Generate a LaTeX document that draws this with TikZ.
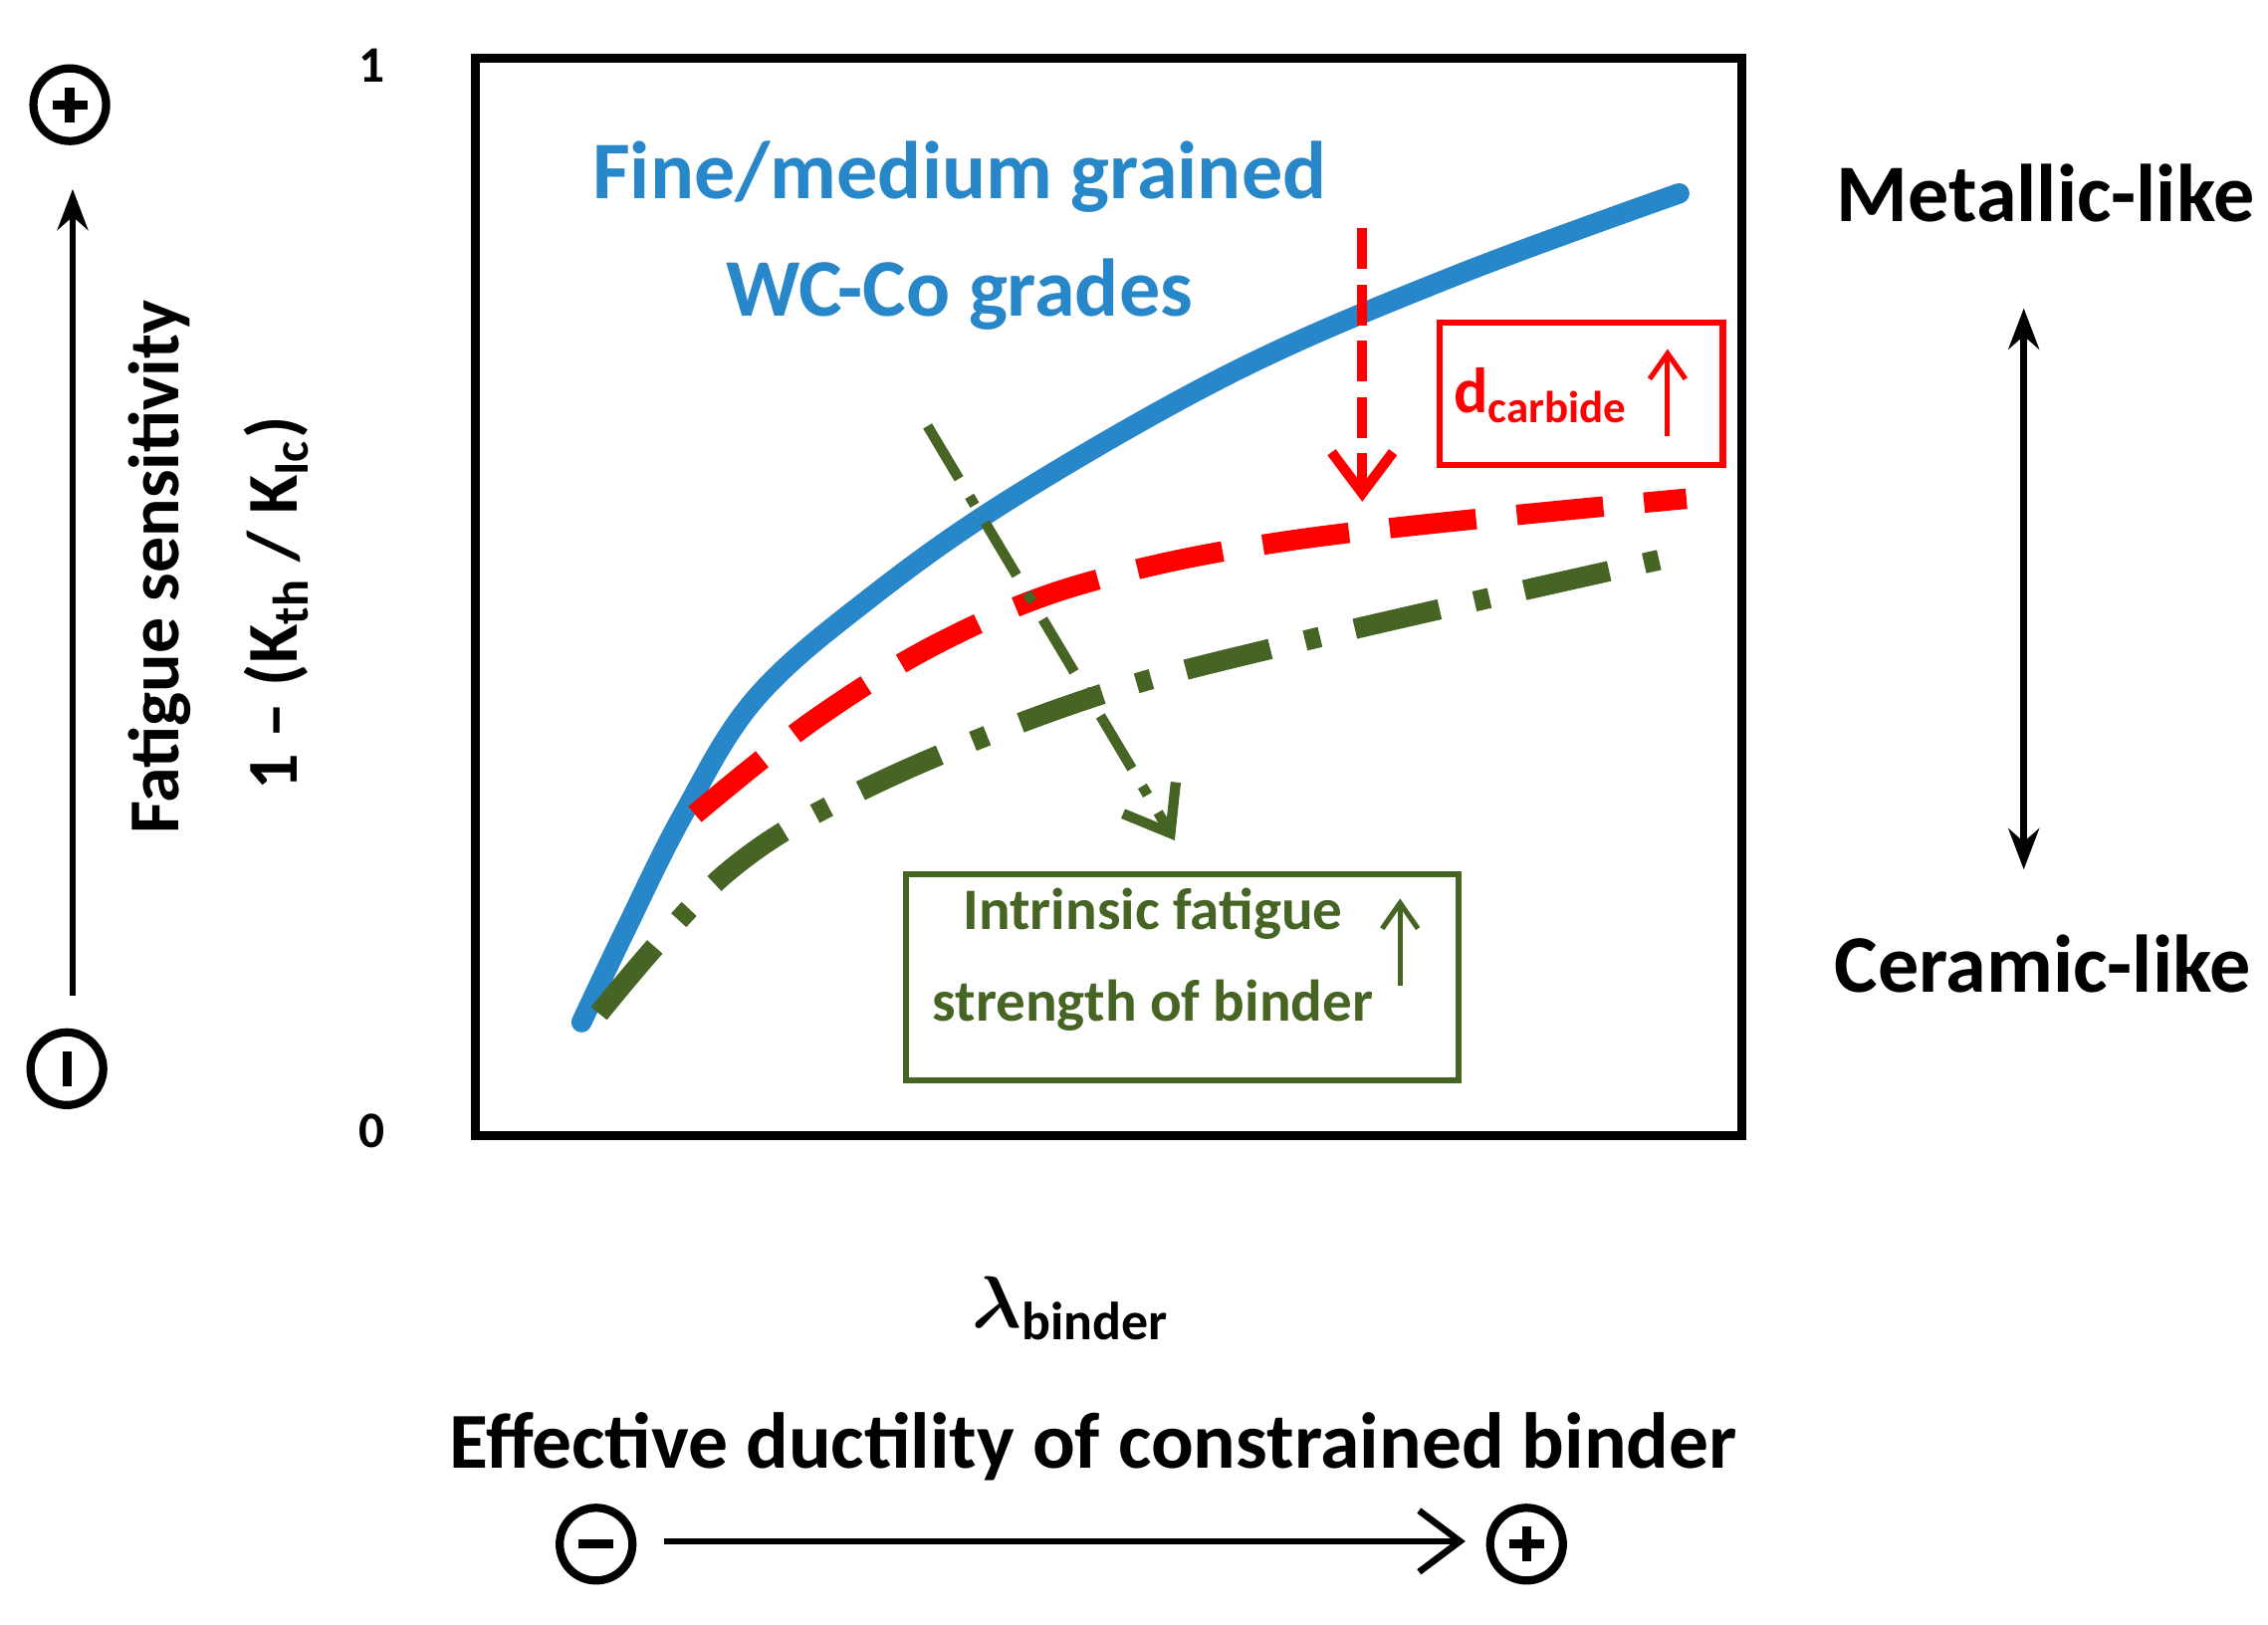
\documentclass[tikz,border=0pt]{standalone}
\usepackage{amsmath}
\usepackage{fontspec}
\setmainfont{Carlito}
\usepackage{xcolor}
\usetikzlibrary{calc,arrows.meta}
\definecolor{fineblue}{RGB}{40,135,200}
\definecolor{binder}{RGB}{70,100,35}
\begin{document}
\begin{tikzpicture}[x=0.01cm,y=-0.01cm,font=\bfseries,
  sign/.style={circle,draw,line width=1.6pt,minimum size=0.5cm,inner sep=0pt},
  tag/.style={font=\bfseries\fontsize{14}{16}\selectfont}]

\useasboundingbox (0,0) rectangle (1560,1117);

% frame
\draw[line width=1.6pt] (327,40) rectangle (1198,781);
\node (one) at (256,45) {\fontsize{10}{12}\selectfont 1};
\node (zero) at (256,778) {\fontsize{10}{12}\selectfont 0};

% left axis
\node[sign] (lplus) at (48,72) {};
\draw[line width=1.8pt] ($(lplus)+(-12,0)$)--($(lplus)+(12,0)$) ($(lplus)+(0,-12)$)--($(lplus)+(0,12)$);
\node[sign] (lminus) at (46,735) {};
\draw[line width=1.8pt] ($(lminus)+(0,-12)$)--($(lminus)+(0,12)$);
\coordinate (ltop) at (50,130);
\coordinate (lbot) at (50,685);
\draw[-{Stealth[length=8pt]},line width=1.3pt] (lbot)--(ltop);
\node[tag,rotate=90] (fatigue) at (110,390) {Fatigue sensitivity};
\node[tag,rotate=90] (ratio) at (190,415) {1 -- (K\textsubscript{th} / K\textsubscript{Ic})};

% curves
\draw[fineblue,line width=4pt,line cap=round] plot[smooth,tension=0.6] coordinates
  {(400,703) (430,640) (470,560) (520,480) (600,410) (700,340) (850,255) (1000,190) (1155,133)};
\draw[red,line width=4pt,dash pattern=on 17pt off 8pt] plot[smooth,tension=0.6] coordinates
  {(478,560) (560,495) (650,440) (750,400) (900,370) (1160,343)};
\draw[binder,line width=4pt,dash pattern=on 17pt off 7pt on 3pt off 7pt] plot[smooth,tension=0.6] coordinates
  {(412,697) (500,600) (600,540) (750,480) (900,440) (1155,382)};

% trend arrows
\coordinate (rtop) at (937,157);
\coordinate (rend) at (937,345);
\draw[red,line width=2pt,dash pattern=on 8pt off 3pt,-{Straight Barb[length=8pt,width=12pt]}] (rtop)--(rend);
\coordinate (gtop) at (638,293);
\coordinate (gend) at (808,578);
\draw[binder,line width=2pt,dash pattern=on 12pt off 4pt on 2pt off 4pt,-{Straight Barb[length=8pt,width=12pt]}] (gtop)--(gend);

% boxes
\draw[red,line width=1.2pt] (990,222) rectangle (1185,320);
\node[red,font=\bfseries\fontsize{12.5}{15}\selectfont] (dcarb) at (1060,272) {d\textsubscript{carbide}};
\coordinate (dlow) at (1147,300);
\coordinate (dup) at (1147,240);
\draw[red,line width=1pt,-{Straight Barb[length=5pt,width=7pt]}] (dlow)--(dup);

\draw[binder,line width=1.2pt] (623,601) rectangle (1003,743);
\node[binder,align=center,font=\bfseries\fontsize{11.5}{18}\selectfont] (intr) at (793,660) {Intrinsic fatigue\\strength of binder};
\coordinate (ilow) at (963,678);
\coordinate (iup) at (963,618);
\draw[binder,line width=1pt,-{Straight Barb[length=5pt,width=7pt]}] (ilow)--(iup);

% curve label
\node[fineblue,align=center,font=\bfseries\fontsize{16}{23}\selectfont] (fine) at (660,162) {Fine/medium grained\\WC-Co grades};

% right scale
\node[font=\bfseries\fontsize{16}{20}\selectfont] (metal) at (1407,133) {Metallic-like};
\node[font=\bfseries\fontsize{16}{20}\selectfont] (ceram) at (1405,663) {Ceramic-like};
\coordinate (rsup) at (1392,212);
\coordinate (rsdn) at (1392,598);
\draw[{Stealth[length=8pt]}-{Stealth[length=8pt]},line width=1.3pt] (rsup)--(rsdn);

% bottom axis
\node[font=\bfseries\fontsize{15}{18}\selectfont] (lam) at (737,900) {$\boldsymbol\lambda$\textsubscript{binder}};
\node[font=\bfseries\fontsize{15.5}{19}\selectfont] (duct) at (752,995) {Effective ductility of constrained binder};
\node[sign] (bminus) at (410,1062) {};
\draw[line width=1.8pt] ($(bminus)+(-12,0)$)--($(bminus)+(12,0)$);
\node[sign] (bplus) at (1050,1062) {};
\draw[line width=1.8pt] ($(bplus)+(-12,0)$)--($(bplus)+(12,0)$) ($(bplus)+(0,-12)$)--($(bplus)+(0,12)$);
\coordinate (barl) at (457,1060);
\coordinate (barr) at (1008,1060);
\draw[-{Straight Barb[length=8pt,width=12pt]},line width=1.3pt] (barl)--(barr);
\end{tikzpicture}
\end{document}
